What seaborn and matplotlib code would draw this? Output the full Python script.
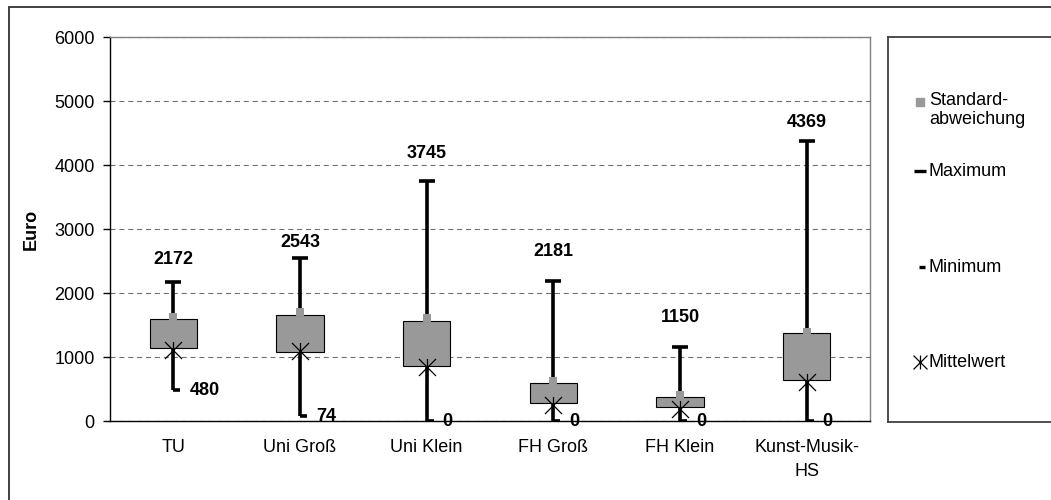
# -*- coding: utf-8 -*-
"""
Stock-style range chart: Euro per Hochschultyp (Min / Max / Mittelwert / Standardabweichung)
"""

import numpy as np
import pandas as pd
import seaborn as sns
import matplotlib.pyplot as plt
from matplotlib.path import Path
from matplotlib.patches import Rectangle

# values
categories = ["TU", "Uni Groß", "Uni Klein", "FH Groß", "FH Klein", "Kunst-Musik-\nHS"]
maximum = [2172, 2543, 3745, 2181, 1150, 4369]
minimum = [480, 74, 0, 0, 0, 0]
mittelwert = [1109, 1094, 848, 250, 188, 614]
box_low = [1136, 1083, 859, 277, 214, 636]
box_high = [1589, 1661, 1567, 598, 375, 1370]
stdabw = [1625, 1708, 1605, 625, 406, 1395]
y_ticks = [0, 1000, 2000, 3000, 4000, 5000, 6000]

# label offset above the max cap (pixels)
label_offset_px = [22, 16, 28, 30, 30, 19]

GREY = "#999999"
FS = 13

sns.set_theme(style="white")
plt.rcParams["font.family"] = ["Liberation Sans", "DejaVu Sans"]
plt.rcParams["text.color"] = "black"
plt.rcParams["axes.labelcolor"] = "black"
plt.rcParams["xtick.color"] = "black"
plt.rcParams["ytick.color"] = "black"

df = pd.DataFrame({
    "x": np.arange(len(categories)),
    "maximum": maximum,
    "minimum": minimum,
    "mittelwert": mittelwert,
    "box_low": box_low,
    "box_high": box_high,
    "stdabw": stdabw,
})

# custom markers: asterisk (X plus vertical) and right-hand min dash
star = Path([(-1, -1), (1, 1), (-1, 1), (1, -1), (0, -1), (0, 1)],
            [Path.MOVETO, Path.LINETO, Path.MOVETO, Path.LINETO, Path.MOVETO, Path.LINETO])
min_dash = Path([(0, 0), (1, 0)], [Path.MOVETO, Path.LINETO])

fig = plt.figure(figsize=(10.51, 5.0), dpi=100)
ax = fig.add_axes([110 / 1051, 1 - 421 / 500, 760 / 1051, 384 / 500])

# whiskers
ax.vlines(df["x"], df["minimum"], df["maximum"], color="black", lw=2.6, zorder=2)
ax.plot(df["x"], df["maximum"], ls="", marker="_", ms=11, mew=2.6, color="black", zorder=2)
ax.plot(df["x"], df["minimum"], ls="", marker=min_dash, ms=10, mew=2.6, color="black", zorder=2)

# boxes
ax.bar(df["x"], df["box_high"] - df["box_low"], bottom=df["box_low"], width=0.375,
       color=GREY, edgecolor="black", linewidth=0.8, zorder=3)

# markers
sns.scatterplot(data=df, x="x", y="stdabw", marker="s", s=32, color=GREY,
                edgecolor=GREY, linewidth=0, ax=ax, zorder=4)
sns.scatterplot(data=df, x="x", y="mittelwert", marker=star, s=150, color="black",
                edgecolor="black", linewidth=0.9, ax=ax, zorder=5)

# value labels
for i, row in df.iterrows():
    ax.annotate(str(row["maximum"]), (row["x"], row["maximum"]),
                xytext=(0, label_offset_px[i] * 0.72), textcoords="offset points",
                ha="center", va="center", fontsize=FS, fontweight="bold")
    ax.annotate(str(row["minimum"]), (row["x"], row["minimum"]),
                xytext=(11.5, 0), textcoords="offset points",
                ha="left", va="center", fontsize=FS, fontweight="bold",
                annotation_clip=False)

# axes styling
ax.set_xlim(-0.5, len(categories) - 0.5)
ax.set_ylim(0, 6000)
ax.set_yticks(y_ticks)
ax.set_yticklabels([str(v) for v in y_ticks], fontsize=FS)
ax.set_xticks(df["x"])
ax.set_xticklabels(categories, fontsize=FS, linespacing=1.5)
ax.set_xticks(np.arange(-0.5, len(categories)), minor=True)
ax.tick_params(axis="x", which="major", length=0, pad=13)
ax.tick_params(axis="x", which="minor", direction="inout", length=10, width=1, color="#333333")
ax.tick_params(axis="y", direction="out", length=5, width=1, pad=6, color="black", left=True)
ax.set_xlabel("")
ax.set_ylabel("Euro", fontsize=FS, fontweight="bold")
ax.yaxis.set_label_coords(-0.092, 0.5)
ax.grid(axis="y", color="#707070", lw=0.8, linestyle=(0, (4.5, 3.5)))
ax.grid(axis="x", visible=False)
for side in ["left", "bottom"]:
    ax.spines[side].set_color("black")
    ax.spines[side].set_linewidth(1.0)
for side in ["top", "right"]:
    ax.spines[side].set_color("#808080")
    ax.spines[side].set_linewidth(1.0)

# legend box drawn in pixel coordinates
leg = fig.add_axes([888 / 1051, 1 - 422 / 500, 0.2, 385 / 500])
leg.set_xlim(888, 888 + 0.2 * 1051)
leg.set_ylim(422, 37)
leg.set_xticks([])
leg.set_yticks([])
for side in leg.spines:
    leg.spines[side].set_color("#404040")
    leg.spines[side].set_linewidth(1.3)
leg.plot([920], [102], ls="", marker="s", ms=5.5, color=GREY)
leg.text(929, 110, "Standard-\nabweichung", fontsize=FS, va="center", ha="left", linespacing=1.15)
leg.plot([920], [171], ls="", marker="_", ms=8, mew=2.4, color="black")
leg.text(929, 171, "Maximum", fontsize=FS, va="center", ha="left")
leg.plot([919], [267], ls="", marker=min_dash, ms=9, mew=2.4, color="black")
leg.text(929, 267, "Minimum", fontsize=FS, va="center", ha="left")
leg.plot([920], [362], ls="", marker=star, ms=10, mew=0.9, color="black")
leg.text(929, 362, "Mittelwert", fontsize=FS, va="center", ha="left")

# outer chart border
fig.patches.append(Rectangle((9 / 1051, -0.1), 1.2, 1.1 - 7 / 500, transform=fig.transFigure,
                             fill=False, edgecolor="#333333", linewidth=1.3))

fig.savefig("out.png", dpi=100)
